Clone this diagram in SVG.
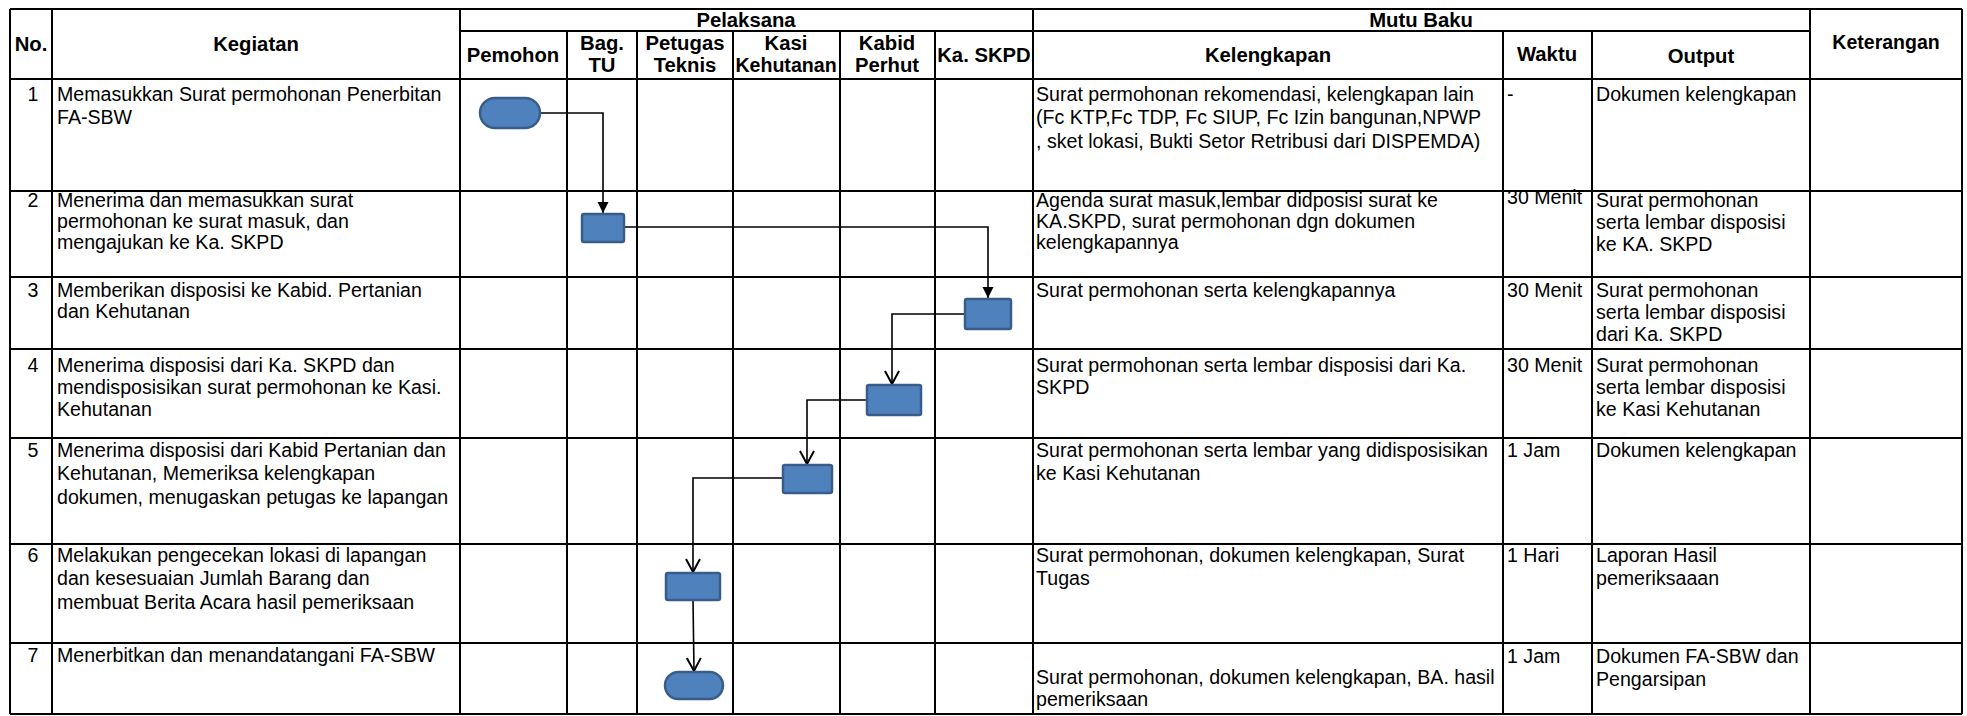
<svg xmlns="http://www.w3.org/2000/svg" width="1967" height="716" viewBox="0 0 1967 716">
<style>
.bg{fill:#fff}
.g{stroke:#000;stroke-width:2;fill:none}
.t{font-family:"Liberation Sans",Arial,sans-serif;font-size:19.6px;fill:#000}
.h{font-weight:bold;text-anchor:middle;font-size:20.3px}
.c{text-anchor:middle}
.node{fill:#4F81BD;stroke:#385D8A;stroke-width:2.5}
.conn{stroke:#000;stroke-width:1.6;fill:none}
</style>
<defs>
<marker id="af" markerUnits="userSpaceOnUse" markerWidth="12" markerHeight="12" refX="11" refY="6" orient="auto">
<path d="M0,0.5 L11,6 L0,11.5 z" fill="#000"/>
</marker>
<marker id="ao" markerUnits="userSpaceOnUse" markerWidth="16" markerHeight="18" refX="14" refY="8" orient="auto">
<path d="M1,1 L14,8 L1,15" fill="none" stroke="#000" stroke-width="2"/>
</marker>
</defs>
<rect class="bg" x="0" y="0" width="1967" height="716"/>

<g id="grid" class="g">
<path d="M10,9 H1962 M460,31 H1810 M10,79 H1962 M10,191 H1962 M10,277 H1962 M10,349 H1962 M10,438 H1962 M10,544 H1962 M10,643 H1962 M10,714 H1962"/>
<path d="M10,9 V714 M52,9 V714 M460,9 V714 M1033,9 V714 M1810,9 V714 M1962,9 V714"/>
<path d="M567,31 V714 M637,31 V714 M733,31 V714 M840,31 V714 M935,31 V714 M1503,31 V714 M1592,31 V714"/>
</g>

<g id="header" class="t h">
<text x="31" y="51">No.</text>
<text x="256" y="51">Kegiatan</text>
<text x="746" y="27">Pelaksana</text>
<text x="1421" y="27">Mutu Baku</text>
<text x="1886" y="49" style="font-size:19.5px">Keterangan</text>
<text x="513" y="62">Pemohon</text>
<text x="602" y="50">Bag.</text>
<text x="602" y="72">TU</text>
<text x="685" y="50">Petugas</text>
<text x="685" y="72">Teknis</text>
<text x="786" y="50">Kasi</text>
<text x="786" y="72" style="font-size:19.6px">Kehutanan</text>
<text x="887" y="50">Kabid</text>
<text x="887" y="72">Perhut</text>
<text x="984" y="62">Ka. SKPD</text>
<text x="1268" y="62">Kelengkapan</text>
<text x="1547" y="61">Waktu</text>
<text x="1701" y="63">Output</text>
</g>

<g id="row1" class="t">
<text class="c" x="33" y="101">1</text>
<text x="57" y="101">Memasukkan Surat permohonan Penerbitan</text>
<text x="57" y="124">FA-SBW</text>
<text x="1036" y="101">Surat permohonan rekomendasi, kelengkapan lain</text>
<text x="1036" y="124">(Fc KTP,Fc TDP, Fc SIUP, Fc Izin bangunan,NPWP</text>
<text x="1036" y="148">, sket lokasi, Bukti Setor Retribusi dari DISPEMDA)</text>
<text x="1507" y="101">-</text>
<text x="1596" y="101">Dokumen kelengkapan</text>
</g>
<g id="row2" class="t">
<text class="c" x="33" y="207">2</text>
<text x="57" y="207">Menerima dan memasukkan surat</text>
<text x="57" y="228">permohonan ke surat masuk, dan</text>
<text x="57" y="249">mengajukan ke Ka. SKPD</text>
<text x="1036" y="207">Agenda surat masuk,lembar didposisi surat ke</text>
<text x="1036" y="228">KA.SKPD, surat permohonan dgn dokumen</text>
<text x="1036" y="249">kelengkapannya</text>
<text x="1507" y="204">30 Menit</text>
<text x="1596" y="207">Surat permohonan</text>
<text x="1596" y="229">serta lembar disposisi</text>
<text x="1596" y="251">ke KA. SKPD</text>
</g>
<g id="row3" class="t">
<text class="c" x="33" y="297">3</text>
<text x="57" y="297">Memberikan disposisi ke Kabid. Pertanian</text>
<text x="57" y="318">dan Kehutanan</text>
<text x="1036" y="297">Surat permohonan serta kelengkapannya</text>
<text x="1507" y="297">30 Menit</text>
<text x="1596" y="297">Surat permohonan</text>
<text x="1596" y="319">serta lembar disposisi</text>
<text x="1596" y="341">dari Ka. SKPD</text>
</g>
<g id="row4" class="t">
<text class="c" x="33" y="372">4</text>
<text x="57" y="372">Menerima disposisi dari Ka. SKPD dan</text>
<text x="57" y="394">mendisposisikan surat permohonan ke Kasi.</text>
<text x="57" y="416">Kehutanan</text>
<text x="1036" y="372">Surat permohonan serta lembar disposisi dari Ka.</text>
<text x="1036" y="394">SKPD</text>
<text x="1507" y="372">30 Menit</text>
<text x="1596" y="372">Surat permohonan</text>
<text x="1596" y="394">serta lembar disposisi</text>
<text x="1596" y="416">ke Kasi Kehutanan</text>
</g>
<g id="row5" class="t">
<text class="c" x="33" y="457">5</text>
<text x="57" y="457">Menerima disposisi dari Kabid Pertanian dan</text>
<text x="57" y="480">Kehutanan, Memeriksa kelengkapan</text>
<text x="57" y="504">dokumen, menugaskan petugas ke lapangan</text>
<text x="1036" y="457">Surat permohonan serta lembar yang didisposisikan</text>
<text x="1036" y="480">ke Kasi Kehutanan</text>
<text x="1507" y="457">1 Jam</text>
<text x="1596" y="457">Dokumen kelengkapan</text>
</g>
<g id="row6" class="t">
<text class="c" x="33" y="562">6</text>
<text x="57" y="562">Melakukan pengecekan lokasi di lapangan</text>
<text x="57" y="585">dan kesesuaian Jumlah Barang dan</text>
<text x="57" y="609">membuat Berita Acara hasil pemeriksaan</text>
<text x="1036" y="562">Surat permohonan, dokumen kelengkapan, Surat</text>
<text x="1036" y="585">Tugas</text>
<text x="1507" y="562">1 Hari</text>
<text x="1596" y="562">Laporan Hasil</text>
<text x="1596" y="585">pemeriksaaan</text>
</g>
<g id="row7" class="t">
<text class="c" x="33" y="662">7</text>
<text x="57" y="662">Menerbitkan dan menandatangani FA-SBW</text>
<text x="1036" y="684">Surat permohonan, dokumen kelengkapan, BA. hasil</text>
<text x="1036" y="706">pemeriksaan</text>
<text x="1507" y="663">1 Jam</text>
<text x="1596" y="663">Dokumen FA-SBW dan</text>
<text x="1596" y="686">Pengarsipan</text>
</g>

<g id="connectors" class="conn">
<path d="M540,113 H603 V213" marker-end="url(#af)"/>
<path d="M624,227 H988 V298" marker-end="url(#af)"/>
<path d="M965,314 H892 V384" marker-end="url(#ao)"/>
<path d="M867,400 H807 V464" marker-end="url(#ao)"/>
<path d="M783,478 H693 V572" marker-end="url(#ao)"/>
<path d="M693,600 L694,671" marker-end="url(#ao)"/>
</g>

<g id="n1"><rect class="node" x="480" y="98" width="60" height="30" rx="15"/></g>
<g id="n2"><rect class="node" x="582" y="214" width="42" height="28" rx="2"/></g>
<g id="n3"><rect class="node" x="965" y="299" width="46" height="30" rx="2"/></g>
<g id="n4"><rect class="node" x="867" y="385" width="54" height="30" rx="2"/></g>
<g id="n5"><rect class="node" x="783" y="465" width="49" height="28" rx="2"/></g>
<g id="n6"><rect class="node" x="666" y="573" width="54" height="27" rx="2"/></g>
<g id="n7"><rect class="node" x="665" y="672" width="58" height="27" rx="13.5"/></g>
</svg>
